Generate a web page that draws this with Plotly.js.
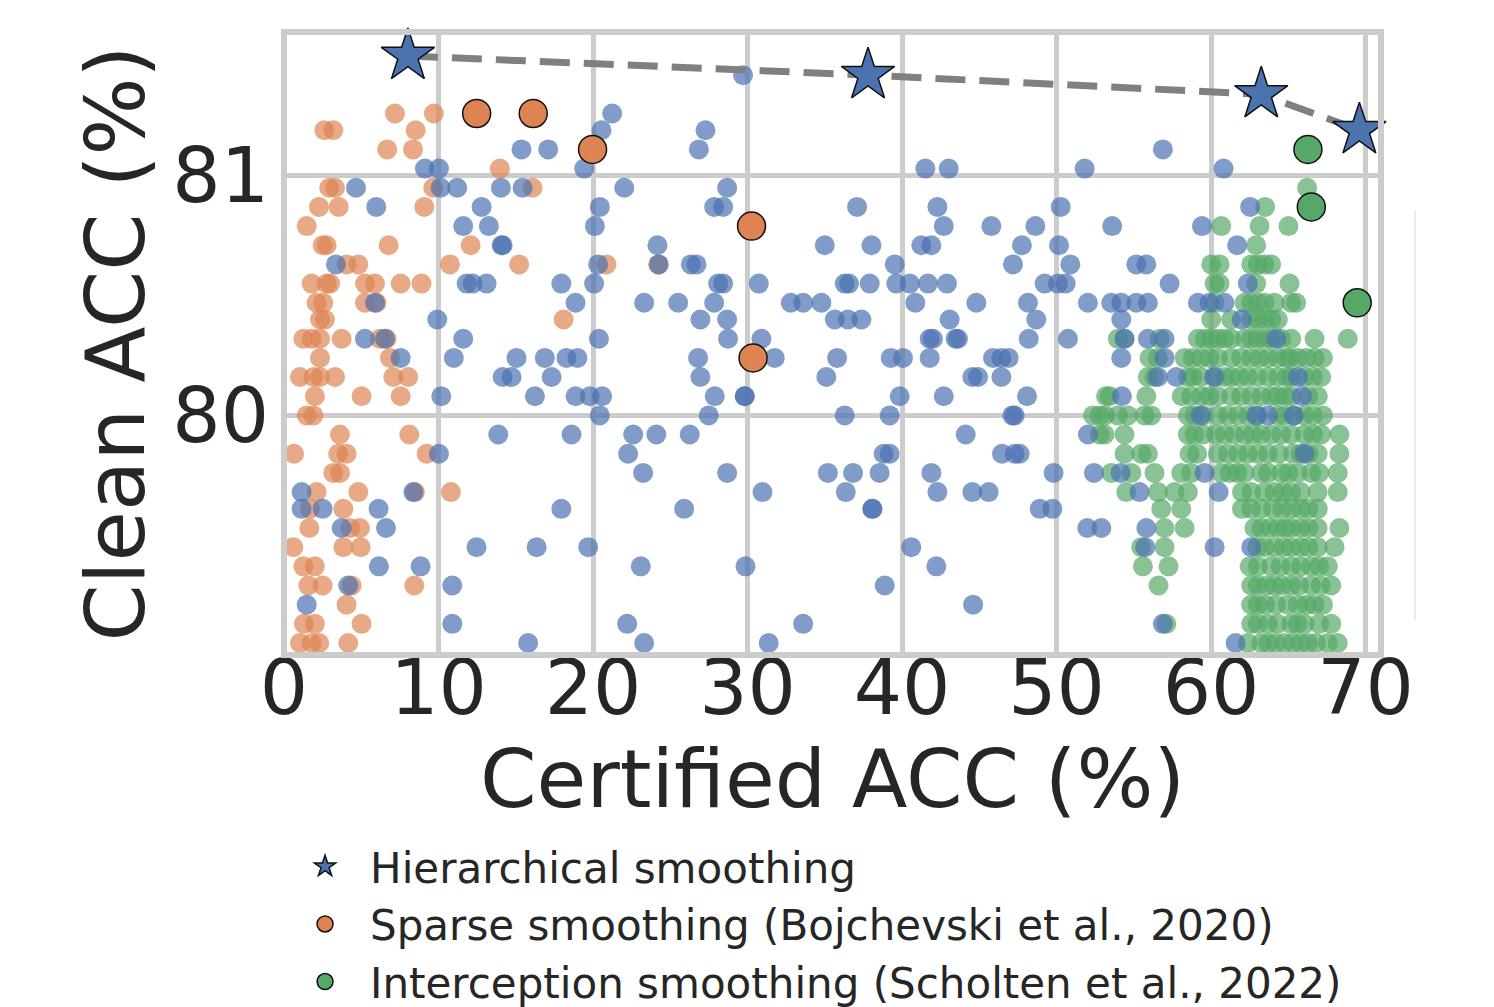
<!DOCTYPE html>
<html><head><meta charset="utf-8">
<script src="https://cdn.plot.ly/plotly-3.0.1.min.js"></script>
<style>html,body{margin:0;padding:0;background:#fff;} #chart{width:1494px;height:1007px;}</style>
</head><body><div id="chart"></div>
<script>
// Pareto front of hierarchical smoothing (stars)
const hierFrontX = [8.02, 37.8, 63.25, 69.6];
const hierFrontY = [81.50, 81.42, 81.34, 81.19];

// Highlighted (best) configurations
const sparseBestX = [12.47, 16.13, 19.97, 30.26, 30.36];
const sparseBestY = [81.26, 81.26, 81.11, 80.79, 80.24];
const interBestX = [66.27, 66.49, 69.46];
const interBestY = [81.11, 80.87, 80.47];

// Rows: [clean acc, [certified acc values]]
const hierRows = [
 [81.42,[29.71]],
 [81.26,[21.24]],
 [81.19,[20.55,27.28]],
 [81.11,[15.37,17.10,26.85,56.88]],
 [81.03,[9.12,10.03,19.43,41.51,43.02,51.82,60.81]],
 [80.95,[4.66,10.13,11.21,14.04,15.44,22.02,28.68]],
 [80.87,[5.97,12.79,20.44,27.84,28.42,37.09,42.29,50.27,62.53]],
 [80.79,[11.6,13.26,20.12,42.7,45.78,48.63,53.6,59.41]],
 [80.71,[14.08,14.15,24.17,35.0,38.02,41.25,41.9,47.76,50.16,61.69]],
 [80.63,[3.36,20.33,24.26,26.33,26.7,39.53,47.18,50.89,55.16,55.81]],
 [80.55,[11.82,12.21,13.11,17.95,20.07,28.1,28.42,30.73,36.29,36.57,37.91,39.63,40.5,41.68,42.91,49.23,50.09,50.59,57.32,62.38]],
 [80.47,[5.89,18.87,23.31,25.51,27.84,32.8,33.6,34.78,40.86,44.81,48.15,52.03,53.54,54.19,55.16,55.91,59.15,59.9,60.87]],
 [80.40,[9.92,26.95,28.68,35.65,36.5,37.37,43.08,48.69,54.19,61.99]],
 [80.32,[5.24,6.53,11.6,20.38,28.74,30.9,41.79,42.0,43.47,43.62,48.2,50.74,54.4,55.91,56.99,64.22]],
 [80.24,[7.55,10.99,15.05,16.88,18.28,18.99,26.8,31.76,35.8,39.27,40.06,41.79,45.89,46.43,46.9,54.19,56.99]],
 [80.16,[14.15,14.73,17.32,26.95,35.1,44.55,44.92,46.43,56.56,57.75,60.18,65.62]],
 [80.08,[10.18,16.24,18.87,19.79,20.59,27.88,29.82,29.82,39.85,42.7,48.09,54.23,65.88]],
 [80.00,[20.44,27.49,36.29,39.2,47.14,47.29,59.32,62.92,63.68,65.34]],
 [79.92,[13.87,18.61,22.6,24.1,26.26,44.12,52.03]],
 [79.84,[10.03,22.27,38.81,39.2,46.47,47.29,47.61,66.05]],
 [79.76,[23.24,28.68,35.2,36.83,38.55,41.9,49.81,52.42,54.15,59.58]],
 [79.68,[1.14,8.37,30.97,36.36,42.29,44.55,45.61,55.37,60.49]],
 [79.61,[1.14,2.5,6.12,17.95,25.9,38.08,38.08,48.91,49.73]],
 [79.53,[3.73,6.6,51.99,52.9,55.81]],
 [79.45,[12.46,16.35,19.69,40.6,55.74,60.23,62.6]],
 [79.37,[6.14,8.84,23.09,29.87,42.22]],
 [79.29,[4.16,10.89,38.88]],
 [79.21,[1.47,44.6]],
 [79.13,[10.89,22.21,33.6,56.88]],
 [79.05,[15.8,23.31,31.37,61.59]]
];

const sparseRows = [
 [81.26,[7.18,9.70]],
 [81.19,[2.61,3.19,8.52]],
 [81.11,[6.68,8.35]],
 [81.03,[13.97]],
 [80.95,[2.93,3.30,9.66,16.09]],
 [80.87,[2.26,3.54,9.08]],
 [80.79,[1.47]],
 [80.71,[2.5,2.76,6.77,12.08]],
 [80.63,[4.05,4.81,10.74,15.22,20.87,24.22]],
 [80.55,[1.79,2.76,2.98,5.24,5.89,7.55,8.9]],
 [80.47,[2.11,2.54,5.24,5.99]],
 [80.40,[2.33,2.65,18.1]],
 [80.32,[1.25,1.79,2.33,3.73,6.21,6.64]],
 [80.24,[2.33,6.86]],
 [80.16,[1.03,1.9,2.33,3.3,7.07,8.04]],
 [80.08,[2.0,5.02,7.55]],
 [80.00,[1.47,1.9]],
 [79.92,[3.62,8.11]],
 [79.84,[0.65,3.51,4.05,9.23]],
 [79.76,[3.19,3.62]],
 [79.68,[2.11,4.81,8.47,10.8]],
 [79.61,[1.68,3.84]],
 [79.53,[1.64,4.27,4.92]],
 [79.45,[0.6,3.84,4.96]],
 [79.37,[1.25,2.0]],
 [79.29,[1.57,2.5,4.38,8.43]],
 [79.21,[4.05]],
 [79.13,[1.29,2.0,5.02]],
 [79.05,[1.03,1.79,2.28,4.16]]
];

const interRows = [
 [80.95,[66.22]],
 [80.87,[63.5]],
 [80.79,[60.66,63.14,65.01]],
 [80.71,[62.92]],
 [80.63,[60.01,60.55,62.6,63.03,63.46,63.89]],
 [80.55,[60.23,60.55,62.92,65.08]],
 [80.47,[60.23,62.17,62.6,63.03,63.46,64.11,65.19,65.51]],
 [80.40,[60.01,61.3,62.6,63.03,63.46,63.89,64.32]],
 [80.32,[53.97,54.4,56.67,59.15,59.6,60.01,60.44,60.87,61.3,62.17,62.6,63.03,63.46,63.89,64.54,65.19,66.7,68.85]],
 [80.24,[56.02,56.56,58.29,58.82,59.36,59.9,60.44,61.3,61.95,62.6,63.14,63.7,64.32,64.86,65.1,65.62,66.16,66.7,67.24]],
 [80.16,[55.91,56.34,58.5,58.82,59.36,60.3,60.87,61.3,61.84,62.38,63.0,63.68,64.32,64.9,65.19,66.05,66.59,67.13]],
 [80.08,[53.2,53.43,55.81,58.1,58.72,59.36,59.9,60.44,61.3,61.95,62.6,63.25,63.89,64.32,64.8,65.19,66.3,66.91]],
 [80.00,[52.36,52.8,53.15,53.97,54.62,55.7,56.13,58.5,58.93,59.5,60.44,61.09,61.74,62.4,63.0,64.32,64.76,65.4,66.05,66.59,67.24]],
 [79.92,[52.79,53.11,54.4,58.5,58.93,59.5,60.3,60.87,61.5,62.17,62.7,63.25,63.9,64.54,65.19,66.05,66.6,67.13,68.31]],
 [79.84,[54.4,55.48,55.91,58.61,59.1,60.44,61.09,61.74,62.38,63.03,63.68,64.4,65.3,65.8,66.3,66.9,68.31]],
 [79.76,[53.54,54.84,56.34,58.07,58.72,60.66,61.2,61.7,62.17,63.25,63.68,64.54,65.0,65.62,66.48,67.0,68.2]],
 [79.68,[54.51,56.56,57.64,58.5,62.0,62.6,63.46,64.11,64.65,65.19,65.8,66.9,68.2]],
 [79.61,[56.78,58.07,62.0,62.6,63.25,64.0,64.6,65.19,65.8,66.3,66.91]],
 [79.53,[56.99,58.29,62.8,63.25,63.8,64.32,64.8,65.19,65.8,66.3,66.9,68.31]],
 [79.45,[55.48,56.99,63.0,63.46,64.11,64.7,65.19,65.8,66.3,66.9,67.99]],
 [79.37,[55.59,57.25,62.5,63.03,63.89,64.5,65.19,65.8,66.48,67.0,67.56]],
 [79.29,[56.6,62.6,63.03,63.6,64.11,64.6,65.19,65.7,66.48,67.1,67.78]],
 [79.21,[62.6,63.03,63.5,64.2,64.97,65.62,66.2,66.7,67.24]],
 [79.13,[57.1,62.6,63.03,63.68,64.3,65.19,65.6,66.05,67.0,67.78]],
 [79.05,[62.38,63.25,63.7,64.2,64.76,65.3,65.8,66.27,66.8,67.56,68.2]]
];

const xTicks = [0,10,20,30,40,50,60,70];
const yTicks = [80,81];
const seriesNames = ['Hierarchical smoothing','Sparse smoothing (Bojchevski et al., 2020)','Interception smoothing (Scholten et al., 2022)'];

const BLUE='#4C72B0', ORANGE='#DD8452', GREEN='#55A868';

function flatten(rows){
  const xs=[], ys=[];
  rows.forEach(r=>r[1].forEach(v=>{xs.push(v); ys.push(r[0]);}));
  return {x:xs, y:ys};
}
const hs=flatten(hierRows), ss=flatten(sparseRows), is=flatten(interRows);

const faded = (d,c)=>({type:'scatter', mode:'markers', x:d.x, y:d.y, showlegend:false, hoverinfo:'skip',
  marker:{size:20, color:c, opacity:0.7, line:{width:0}}});

const data = [
  faded(ss, ORANGE),
  faded(is, GREEN),
  faded(hs, BLUE),
  {type:'scatter', mode:'markers', x:sparseBestX, y:sparseBestY, name:seriesNames[1], legendrank:2,
   marker:{size:28, color:ORANGE, line:{color:'#111', width:1.5}}},
  {type:'scatter', mode:'markers', x:interBestX, y:interBestY, name:seriesNames[2], legendrank:3,
   marker:{size:28, color:GREEN, line:{color:'#111', width:1.5}}},
  {type:'scatter', mode:'lines', x:hierFrontX, y:hierFrontY, showlegend:false, hoverinfo:'skip', cliponaxis:false,
   line:{color:'#808080', width:7, dash:'30px,14px'}},
  {type:'scatter', mode:'markers', x:hierFrontX, y:hierFrontY, name:seriesNames[0], legendrank:1, cliponaxis:false,
   marker:{symbol:'star', size:40, color:BLUE, line:{color:'#111', width:1.5}}}
];

const layout = {
  width:1494, height:1007,
  margin:{l:284, r:113, t:32, b:352, autoexpand:false},
  paper_bgcolor:'#ffffff', plot_bgcolor:'#ffffff',
  font:{family:'DejaVu Sans', color:'#262626'},
  showlegend:true,
  xaxis:{range:[0,71], tickvals:xTicks, ticktext:xTicks.map(String), showgrid:true, gridcolor:'#cccccc', gridwidth:5,
    zeroline:false, showline:false, ticks:'', tickfont:{size:76, color:'#262626'}, ticklabelstandoff:-18,
    title:{text:'Certified ACC (%)', font:{size:81, color:'#262626'}, standoff:0}},
  yaxis:{range:[79.0,81.6], tickvals:yTicks, ticktext:yTicks.map(String), showgrid:true, gridcolor:'#cccccc', gridwidth:5,
    zeroline:false, showline:false, ticks:'', tickfont:{size:76, color:'#262626'}, ticklabelstandoff:14,
    title:{text:'Clean ACC (%)', font:{size:82, color:'#262626'}, standoff:0}},
  shapes:[
    {type:'rect', xref:'paper', yref:'paper', x0:0, x1:1, y0:0, y1:1, layer:'above', line:{color:'#cccccc', width:6}},
    {type:'line', xref:'paper', yref:'paper', x0:1.031, x1:1.031, y0:0.056, y1:0.714, line:{color:'#e4e4e4', width:1.5}}
  ],
  legend:{x:-0.0036, y:-0.285, xanchor:'left', yanchor:'top', font:{size:42, color:'#262626'}, bgcolor:'rgba(0,0,0,0)', itemwidth:80}
};

Plotly.newPlot('chart', data, layout, {displayModeBar:false, staticPlot:true});
</script></body></html>
